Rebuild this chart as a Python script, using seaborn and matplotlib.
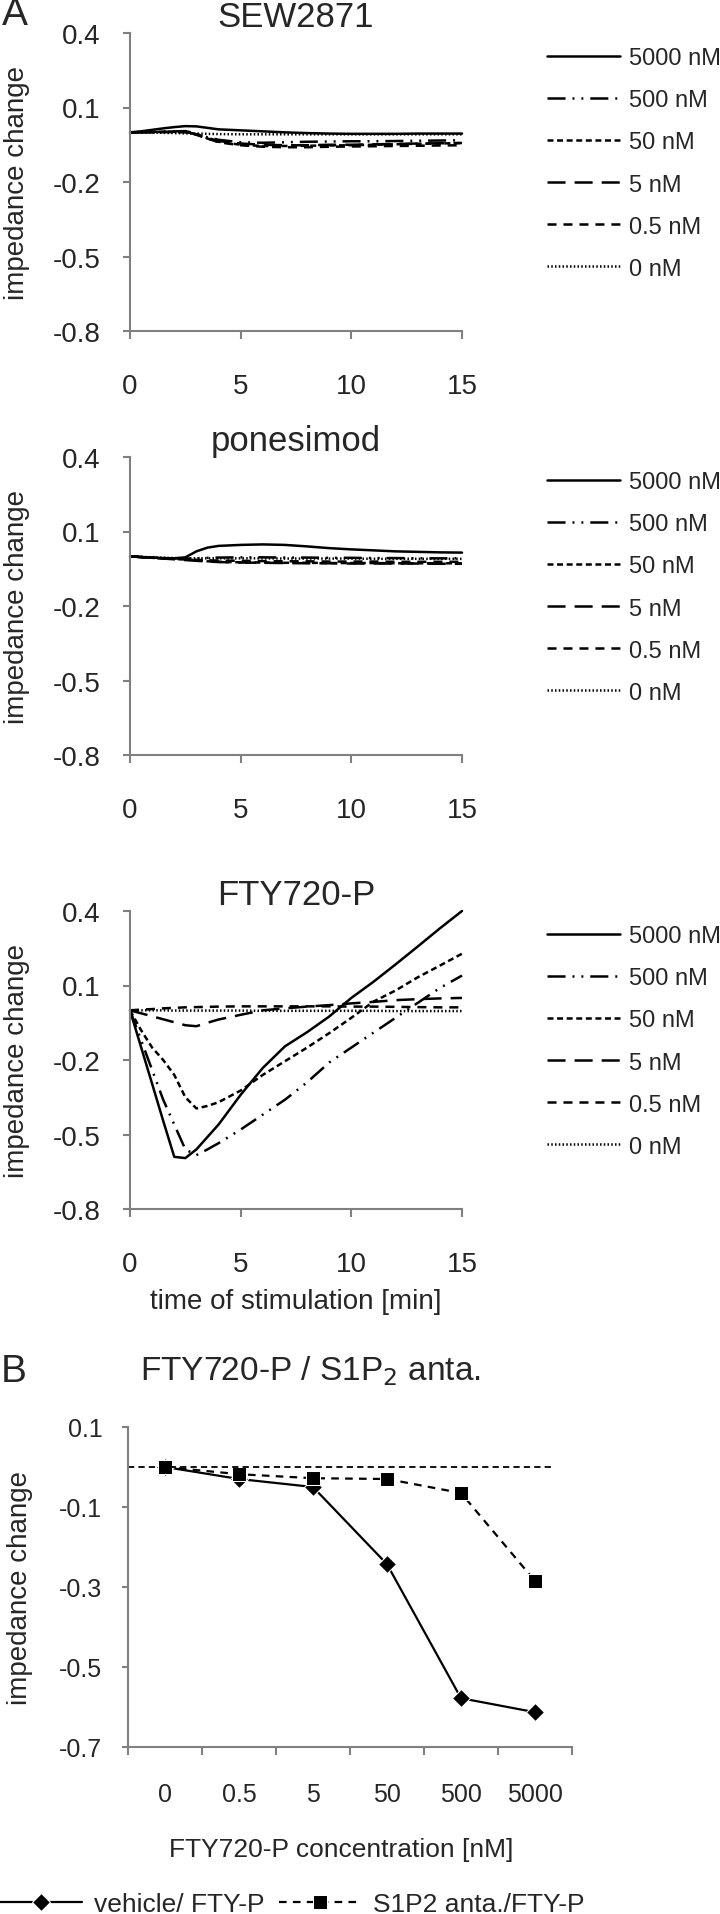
import matplotlib
matplotlib.use('Agg')
import matplotlib.pyplot as plt
import seaborn as sns

sns.set_style('ticks')
plt.rcParams['font.family'] = ['Liberation Sans', 'DejaVu Sans']
plt.rcParams['axes.unicode_minus'] = False
plt.rcParams['lines.scale_dashes'] = False

# time axis (min) and concentrations
time_min = [0, 0.5, 1, 1.5, 2, 2.5, 3, 3.5, 4, 5, 6, 7, 8, 9, 10, 11, 12, 13, 14, 15]
conc_labels = ['5000 nM', '500 nM', '50 nM', '5 nM', '0.5 nM', '0 nM']

# SEW2871
sew_5000 = [0, 0.004, 0.01, 0.016, 0.021, 0.025, 0.024, 0.018, 0.012, 0.008, 0.004, 0.0, -0.003, -0.005, -0.006, -0.006, -0.006, -0.005, -0.005, -0.005]
sew_500 = [0, 0.001, 0.002, 0.003, 0.004, 0.005, -0.005, -0.02, -0.03, -0.04, -0.042, -0.04, -0.038, -0.037, -0.036, -0.036, -0.035, -0.034, -0.033, -0.032]
sew_50 = [0, 0.0, 0.001, 0.002, 0.003, 0.003, -0.008, -0.025, -0.038, -0.05, -0.055, -0.055, -0.054, -0.053, -0.052, -0.05, -0.048, -0.046, -0.045, -0.043]
sew_5 = [0, 0.0, 0.001, 0.002, 0.002, 0.002, -0.008, -0.022, -0.035, -0.045, -0.05, -0.052, -0.052, -0.05, -0.05, -0.048, -0.047, -0.045, -0.044, -0.043]
sew_05 = [0, 0.0, 0.0, 0.001, 0.001, 0.0, -0.01, -0.025, -0.04, -0.052, -0.058, -0.06, -0.06, -0.058, -0.057, -0.056, -0.055, -0.054, -0.053, -0.052]
sew_0 = [0, 0.0, -0.001, -0.002, -0.003, -0.004, -0.005, -0.006, -0.007, -0.008, -0.008, -0.008, -0.008, -0.008, -0.008, -0.008, -0.008, -0.008, -0.008, -0.008]

# ponesimod
pon_5000 = [0, -0.003, -0.005, -0.007, -0.008, -0.004, 0.02, 0.035, 0.042, 0.046, 0.048, 0.046, 0.04, 0.033, 0.028, 0.024, 0.02, 0.018, 0.016, 0.015]
pon_500 = [0, -0.003, -0.005, -0.007, -0.008, -0.009, -0.008, -0.006, -0.005, -0.004, -0.004, -0.005, -0.005, -0.006, -0.006, -0.007, -0.007, -0.008, -0.008, -0.008]
pon_50 = [0, -0.003, -0.006, -0.008, -0.01, -0.012, -0.016, -0.02, -0.022, -0.024, -0.025, -0.026, -0.026, -0.027, -0.027, -0.027, -0.028, -0.028, -0.028, -0.028]
pon_5 = [0, -0.003, -0.006, -0.009, -0.012, -0.015, -0.018, -0.021, -0.023, -0.025, -0.026, -0.027, -0.028, -0.028, -0.029, -0.029, -0.029, -0.029, -0.03, -0.03]
pon_05 = [0, -0.003, -0.005, -0.008, -0.01, -0.012, -0.014, -0.016, -0.017, -0.018, -0.019, -0.02, -0.02, -0.021, -0.021, -0.021, -0.022, -0.022, -0.022, -0.022]
pon_0 = [0, -0.002, -0.004, -0.006, -0.007, -0.008, -0.008, -0.008, -0.008, -0.008, -0.008, -0.009, -0.009, -0.009, -0.009, -0.01, -0.01, -0.01, -0.01, -0.01]

# FTY720-P
fty_5000 = [0, -0.148, -0.296, -0.445, -0.59, -0.595, -0.56, -0.51, -0.46, -0.34, -0.232, -0.145, -0.088, -0.025, 0.05, 0.115, 0.185, 0.257, 0.33, 0.4]
fty_500 = [0, -0.12, -0.24, -0.36, -0.46, -0.56, -0.583, -0.56, -0.535, -0.48, -0.42, -0.36, -0.29, -0.21, -0.15, -0.09, -0.03, 0.03, 0.09, 0.14]
fty_50 = [0, -0.08, -0.15, -0.2, -0.26, -0.35, -0.395, -0.385, -0.37, -0.323, -0.26, -0.205, -0.15, -0.092, -0.03, 0.035, 0.08, 0.133, 0.18, 0.228]
fty_5 = [0, -0.012, -0.024, -0.036, -0.048, -0.06, -0.064, -0.05, -0.037, -0.018, 0.0, 0.008, 0.015, 0.021, 0.028, 0.034, 0.041, 0.045, 0.048, 0.05]
fty_05 = [0, 0.003, 0.005, 0.008, 0.01, 0.012, 0.013, 0.014, 0.015, 0.016, 0.016, 0.016, 0.016, 0.016, 0.015, 0.015, 0.014, 0.013, 0.012, 0.012]
fty_0 = [0, 0.0, 0.0, 0.0, -0.001, -0.001, -0.001, -0.001, -0.001, -0.001, -0.002, -0.002, -0.002, -0.002, -0.002, -0.002, -0.003, -0.003, -0.003, -0.003]

# panel B
b_conc = ['0', '0.5', '5', '50', '500', '5000']
vehicle = [0.0, -0.03, -0.05, -0.243, -0.578, -0.613]
s1p2_anta = [0.0, -0.018, -0.028, -0.03, -0.065, -0.285]

panels = [
    ('SEW2871', [sew_5000, sew_500, sew_50, sew_5, sew_05, sew_0]),
    ('ponesimod', [pon_5000, pon_500, pon_50, pon_5, pon_05, pon_0]),
    ('FTY720-P', [fty_5000, fty_500, fty_50, fty_5, fty_05, fty_0]),
]
line_styles = ['-', (0, (13, 5, 1.4, 5, 1.4, 5)), (0, (4.3, 2.6)),
               (0, (13, 6.5)), (0, (6.5, 5)), (0, (1.1, 1.6))]

W, H = 720, 1915
fig = plt.figure(figsize=(W / 100, H / 100), dpi=100)
grey = '#808080'

tops = [34, 458, 912]
for (name, series), top in zip(panels, tops):
    ax = fig.add_axes([130 / W, 1 - (top + 298) / H, 332 / W, 298 / H])
    for vals, lab, ls in zip(series, conc_labels, line_styles):
        sns.lineplot(x=time_min, y=vals, ax=ax, color='black', lw=1.8,
                     linestyle=ls, label=lab, estimator=None, clip_on=False)
    ax.set_xlim(0, 15)
    ax.set_ylim(-0.8, 0.4)
    ax.set_xticks([0, 5, 10, 15])
    ax.set_yticks([0.4, 0.1, -0.2, -0.5, -0.8])
    ax.set_yticklabels(['0.4', '0.1', '-0.2', '-0.5', '-0.8'])
    sns.despine(ax=ax)
    for s in ['left', 'bottom']:
        ax.spines[s].set_color(grey)
        ax.spines[s].set_linewidth(1.5)
    ax.tick_params(axis='y', length=5, width=1.5, color=grey, pad=16, labelsize=20)
    ax.tick_params(axis='x', length=6, width=1.5, color=grey, pad=24, labelsize=20)
    ax.set_title(name, fontsize=25, pad=1)
    ax.set_ylabel('impedance change', fontsize=20)
    ax.yaxis.set_label_coords(-0.30, 0.5)
    ax.set_xlabel('')
    ax.legend(loc='center left', bbox_to_anchor=(547 / W, 1 - (top + 130.5) / H),
              bbox_transform=fig.transFigure, frameon=False, fontsize=17,
              handlelength=3.1, handletextpad=0.38, labelspacing=0.85,
              borderpad=0, borderaxespad=0)
    if name == 'FTY720-P':
        ax.set_xlabel('time of stimulation [min]', fontsize=20)
        ax.xaxis.set_label_coords(0.5, -0.265)
        ax.xaxis.label.set_va('top')

fig.text(15 / W, 1 - 15 / H, 'A', fontsize=28, ha='center', va='center')

# panel B
axb = fig.add_axes([128 / W, 1 - 1748 / H, 444 / W, 320 / H])
sns.lineplot(x=b_conc, y=vehicle, ax=axb, sort=False, estimator=None, color='black',
             lw=1.6, marker='D', markersize=9, label='vehicle/ FTY-P')
sns.lineplot(x=b_conc, y=s1p2_anta, ax=axb, sort=False, estimator=None, color='black',
             lw=1.6, linestyle=(0, (5.5, 4.5)), marker='s', markersize=10,
             label='S1P2 anta./FTY-P')
axb.axhline(0, xmin=0, xmax=0.957, color='black', lw=1.3, linestyle=(0, (4.5, 3)))
axb.set_xlim(-0.5, 5.5)
axb.set_ylim(-0.7, 0.1)
axb.set_yticks([0.1, -0.1, -0.3, -0.5, -0.7])
axb.set_yticklabels(['0.1', '-0.1', '-0.3', '-0.5', '-0.7'])
axb.set_xticks([i - 0.5 for i in range(len(b_conc) + 1)], minor=True)
sns.despine(ax=axb)
for s in ['left', 'bottom']:
    axb.spines[s].set_color(grey)
    axb.spines[s].set_linewidth(1.5)
axb.tick_params(axis='y', length=4.5, width=1.5, color=grey, pad=14, labelsize=18)
axb.tick_params(axis='x', which='major', length=0, pad=25, labelsize=18)
axb.tick_params(axis='x', which='minor', length=6, width=1.5, color=grey)
axb.set_ylabel('impedance change', fontsize=20)
axb.yaxis.set_label_coords(-0.215, 0.5)
axb.set_xlabel('FTY720-P concentration [nM]', fontsize=19)
axb.xaxis.set_label_coords(0.48, -0.28)
axb.xaxis.label.set_va('top')

handles, labels = axb.get_legend_handles_labels()
axb.get_legend().remove()
fig.legend(handles, labels, loc='center left', bbox_to_anchor=(0, 1 - 1905 / H),
           ncol=2, frameon=False, fontsize=19, handlelength=3.1, handletextpad=0.45,
           columnspacing=0.57, borderpad=0, borderaxespad=0)

fig.text(14 / W, 1 - 1372 / H, 'B', fontsize=28, ha='center', va='center')
fig.text(140 / W, 1 - 1371 / H, 'FTY720-P / S1P$_2$ anta.', fontsize=24,
         ha='left', va='center')

fig.savefig('out.png', dpi=100)
